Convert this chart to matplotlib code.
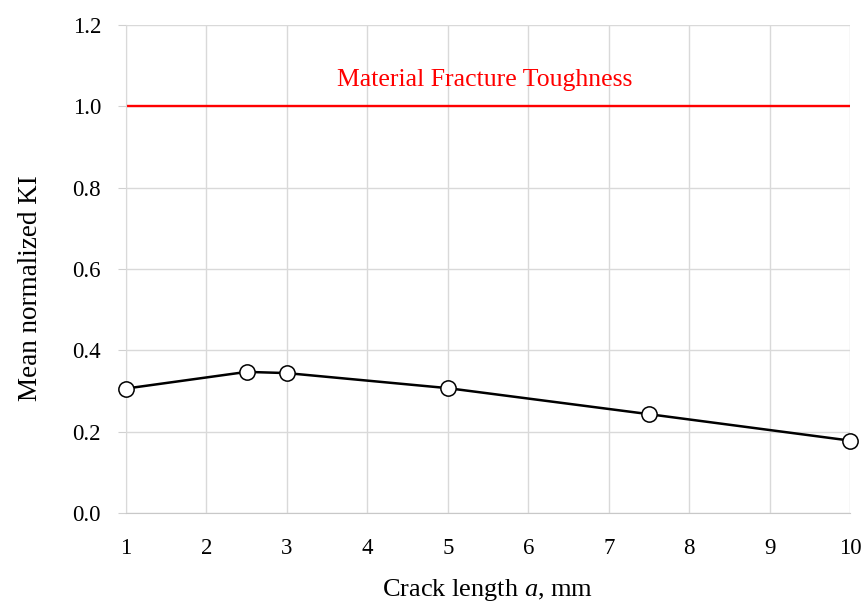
import matplotlib.pyplot as plt

plt.rcParams['font.family'] = ['Liberation Serif', 'DejaVu Serif']
plt.rcParams['mathtext.fontset'] = 'custom'
plt.rcParams['mathtext.rm'] = 'Liberation Serif'
plt.rcParams['mathtext.it'] = 'Liberation Serif:italic'

# data
crack_length = [1, 2.5, 3, 5, 7.5, 10]
mean_ki = [0.306, 0.347, 0.344, 0.307, 0.243, 0.178]
toughness = 1.0
x_ticks = [1, 2, 3, 4, 5, 6, 7, 8, 9, 10]
y_ticks = [0.0, 0.2, 0.4, 0.6, 0.8, 1.0, 1.2]

fig = plt.figure(figsize=(8.65, 6.06), dpi=100)
ax = fig.add_axes([0.1457, 0.1535, 0.837, 0.8052])

# reference line
ax.axhline(toughness, color='#ff0000', lw=1.7, zorder=2)
ax.text(5.46, 1.065, 'Material Fracture Toughness', color='#ff0000',
        fontsize=18.5, ha='center', va='center')

# data
ax.plot(crack_length, mean_ki, color='black', lw=1.8, marker='o', ms=11,
        mfc='white', mec='black', mew=1.1, zorder=3, clip_on=False)

ax.set_xlim(1, 10)
ax.set_ylim(0, 1.2)
ax.set_xticks(x_ticks)
ax.set_yticks(y_ticks)
ax.set_yticklabels([f'{v:.1f}' for v in y_ticks])
ax.grid(True, color='#d9d9d9', lw=1)
ax.set_axisbelow(True)

for s in ['top', 'right']:
    ax.spines[s].set_visible(False)
ax.spines['left'].set_color('#d9d9d9')
ax.spines['bottom'].set_color('#c8c8c8')
ax.tick_params(axis='y', colors='#d0d0d0', labelcolor='black',
               labelsize=16.5, length=6, pad=12)
ax.tick_params(axis='x', labelsize=16.5, length=0, pad=18)

ax.set_xlabel('Crack length $\\mathit{a}$, mm', fontsize=19)
ax.set_ylabel('Mean normalized KI', fontsize=19.5)
ax.xaxis.set_label_coords(0.5, -0.158)
ax.xaxis.label.set_va('center')
ax.yaxis.set_label_coords(-0.1326, 0.461)
ax.yaxis.label.set_va('center')

plt.savefig('out.png', dpi=100)
